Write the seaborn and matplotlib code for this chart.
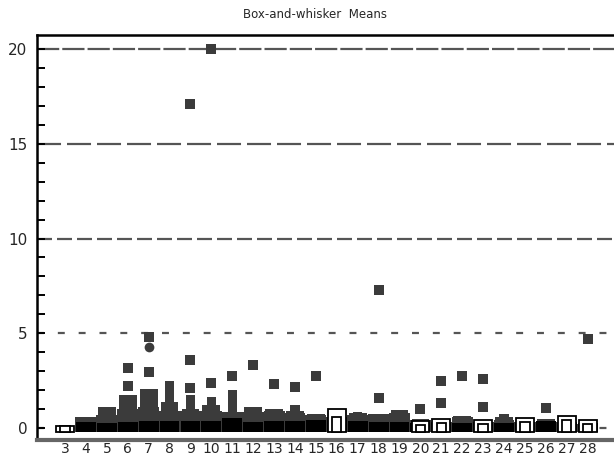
import numpy as np
import pandas as pd
import matplotlib
matplotlib.use("Agg")
import matplotlib.pyplot as plt
import seaborn as sns

sns.set_style("white")
plt.rcParams['font.family'] = ['Liberation Sans Narrow', 'DejaVu Sans']
plt.rcParams['lines.scale_dashes'] = False

# ---------------- data ----------------
categories = [str(c) for c in range(3, 29)]
# dark grey stepped "towers" (top of each tier)
dark_wide = [0.0, 0.6, 0.7, 1.0, 1.1, 0.9, 0.9, 0.9, 0.86, 0.85, 0.9, 0.8, 0.7,
             0.6, 0.7, 0.75, 0.8, 0.4, 0.3, 0.6, 0.3, 0.45, 0.3, 0.3, 0.3, 0.2]
dark_mid = [0.0, 0.6, 1.1, 1.77, 2.07, 1.4, 1.0, 1.2, 0.86, 1.12, 1.03, 0.9, 0.75,
            0.6, 0.82, 0.75, 0.95, 0.5, 0.3, 0.65, 0.3, 0.6, 0.3, 0.5, 0.3, 0.2]
dark_top = [0.0, 0.6, 1.1, 1.77, 2.07, 2.47, 1.77, 1.65, 2.0, 1.12, 1.03, 1.2, 0.75,
            0.6, 0.85, 0.75, 0.95, 0.5, 0.3, 0.65, 0.3, 0.72, 0.3, 0.5, 0.3, 0.2]
black_top = [0.0, 0.3, 0.25, 0.3, 0.35, 0.35, 0.35, 0.35, 0.55, 0.3, 0.35, 0.35, 0.4,
             0.4, 0.35, 0.3, 0.3, 0.25, 0.25, 0.25, 0.25, 0.25, 0.25, 0.35, 0.25, 0.25]
hollow_top = [0.12, 0, 0, 0, 0, 0, 0, 0, 0, 0, 0, 0, 0,
              1.0, 0, 0, 0, 0.35, 0.5, 0, 0.4, 0, 0.55, 0, 0.65, 0.4]
hollow_inner = [0.12, 0, 0, 0, 0, 0, 0, 0, 0, 0, 0, 0, 0,
                0.6, 0, 0, 0, 0.15, 0.25, 0, 0.2, 0, 0.3, 0, 0.4, 0.2]

out_cat = ['6', '6', '7', '7', '9', '9', '9', '10', '10', '11', '12', '13', '14',
           '15', '18', '18', '20', '21', '21', '22', '23', '23', '26', '28']
out_val = [3.15, 2.2, 4.8, 2.95, 17.1, 3.6, 2.1, 20.0, 2.4, 2.74, 3.35, 2.3, 2.15,
           2.74, 7.3, 1.6, 1.0, 2.5, 1.3, 2.74, 2.6, 1.1, 1.05, 4.72]
circ_cat = ['7']
circ_val = [4.3]

yticks = [0, 5, 10, 15, 20]
base = -0.2

# ---------------- figure ----------------
fig = plt.figure(figsize=(6.14, 4.59), dpi=100)
ax = fig.add_axes([37 / 614, 1 - 440 / 459, 582 / 614, 405 / 459])

grid_color = '#555555'
dash_styles = {0: (0, (5, 10)), 5: (0, (5, 10)), 10: (0, (10.8, 3.6)),
               15: (0, (17.3, 4.3)), 20: (0, (16, 2.2))}
for v in yticks:
    ax.axhline(v, color=grid_color, lw=1.6, ls=dash_styles[v], zorder=0)

dark = '#3b3b3b'
def layer(tops, width, color, **kw):
    heights = [t - base if t > 0 else 0 for t in tops]
    sns.barplot(x=categories, y=heights, order=categories, color=color,
                saturation=1, width=width, bottom=base, errorbar=None,
                linewidth=0, ax=ax, **kw)

layer(dark_wide, 1.0, dark)
layer(dark_mid, 0.85, dark)
layer(dark_top, 0.45, dark)
layer(black_top, 0.95, 'black')

# hollow (white) boxes
for tops, w in ((hollow_top, 0.85), (hollow_inner, 0.45)):
    heights = [t - base if t > 0 else 0 for t in tops]
    sns.barplot(x=categories, y=heights, order=categories, color='white',
                saturation=1, width=w, bottom=base, errorbar=None,
                edgecolor='black', linewidth=1.3, ax=ax)
for p in ax.patches:
    if p.get_height() == 0:
        p.set_visible(False)

sns.stripplot(x=out_cat, y=out_val, order=categories, jitter=False, marker='s',
              color=dark, size=6.5, linewidth=0, ax=ax)
sns.stripplot(x=circ_cat, y=circ_val, order=categories, jitter=False, marker='o',
              color=dark, size=7, linewidth=0, ax=ax)

ax.set_xlim(-1.34, 26.5)
ax.set_ylim(-0.63, 20.74)
ax.set_yticks(yticks)
ax.set_yticklabels([str(v) for v in yticks], fontsize=11)
ax.set_yticks(range(0, 21), minor=True)
ax.tick_params(axis='y', which='both', direction='in', length=6, width=1.4,
               color='black', left=True, pad=7)
ax.tick_params(axis='x', length=0, labelsize=10, pad=1.5)
ax.set_xlabel('')
ax.set_ylabel('')
for s in ['left', 'top', 'right']:
    ax.spines[s].set_color('black')
    ax.spines[s].set_linewidth(1.8)
ax.spines['bottom'].set_color('#666666')
ax.spines['bottom'].set_linewidth(3)

fig.text(315 / 614, 1 - 14 / 459, 'Box-and-whisker  Means', ha='center', va='center',
         fontsize=8.5)

fig.savefig('out.png', dpi=100)
